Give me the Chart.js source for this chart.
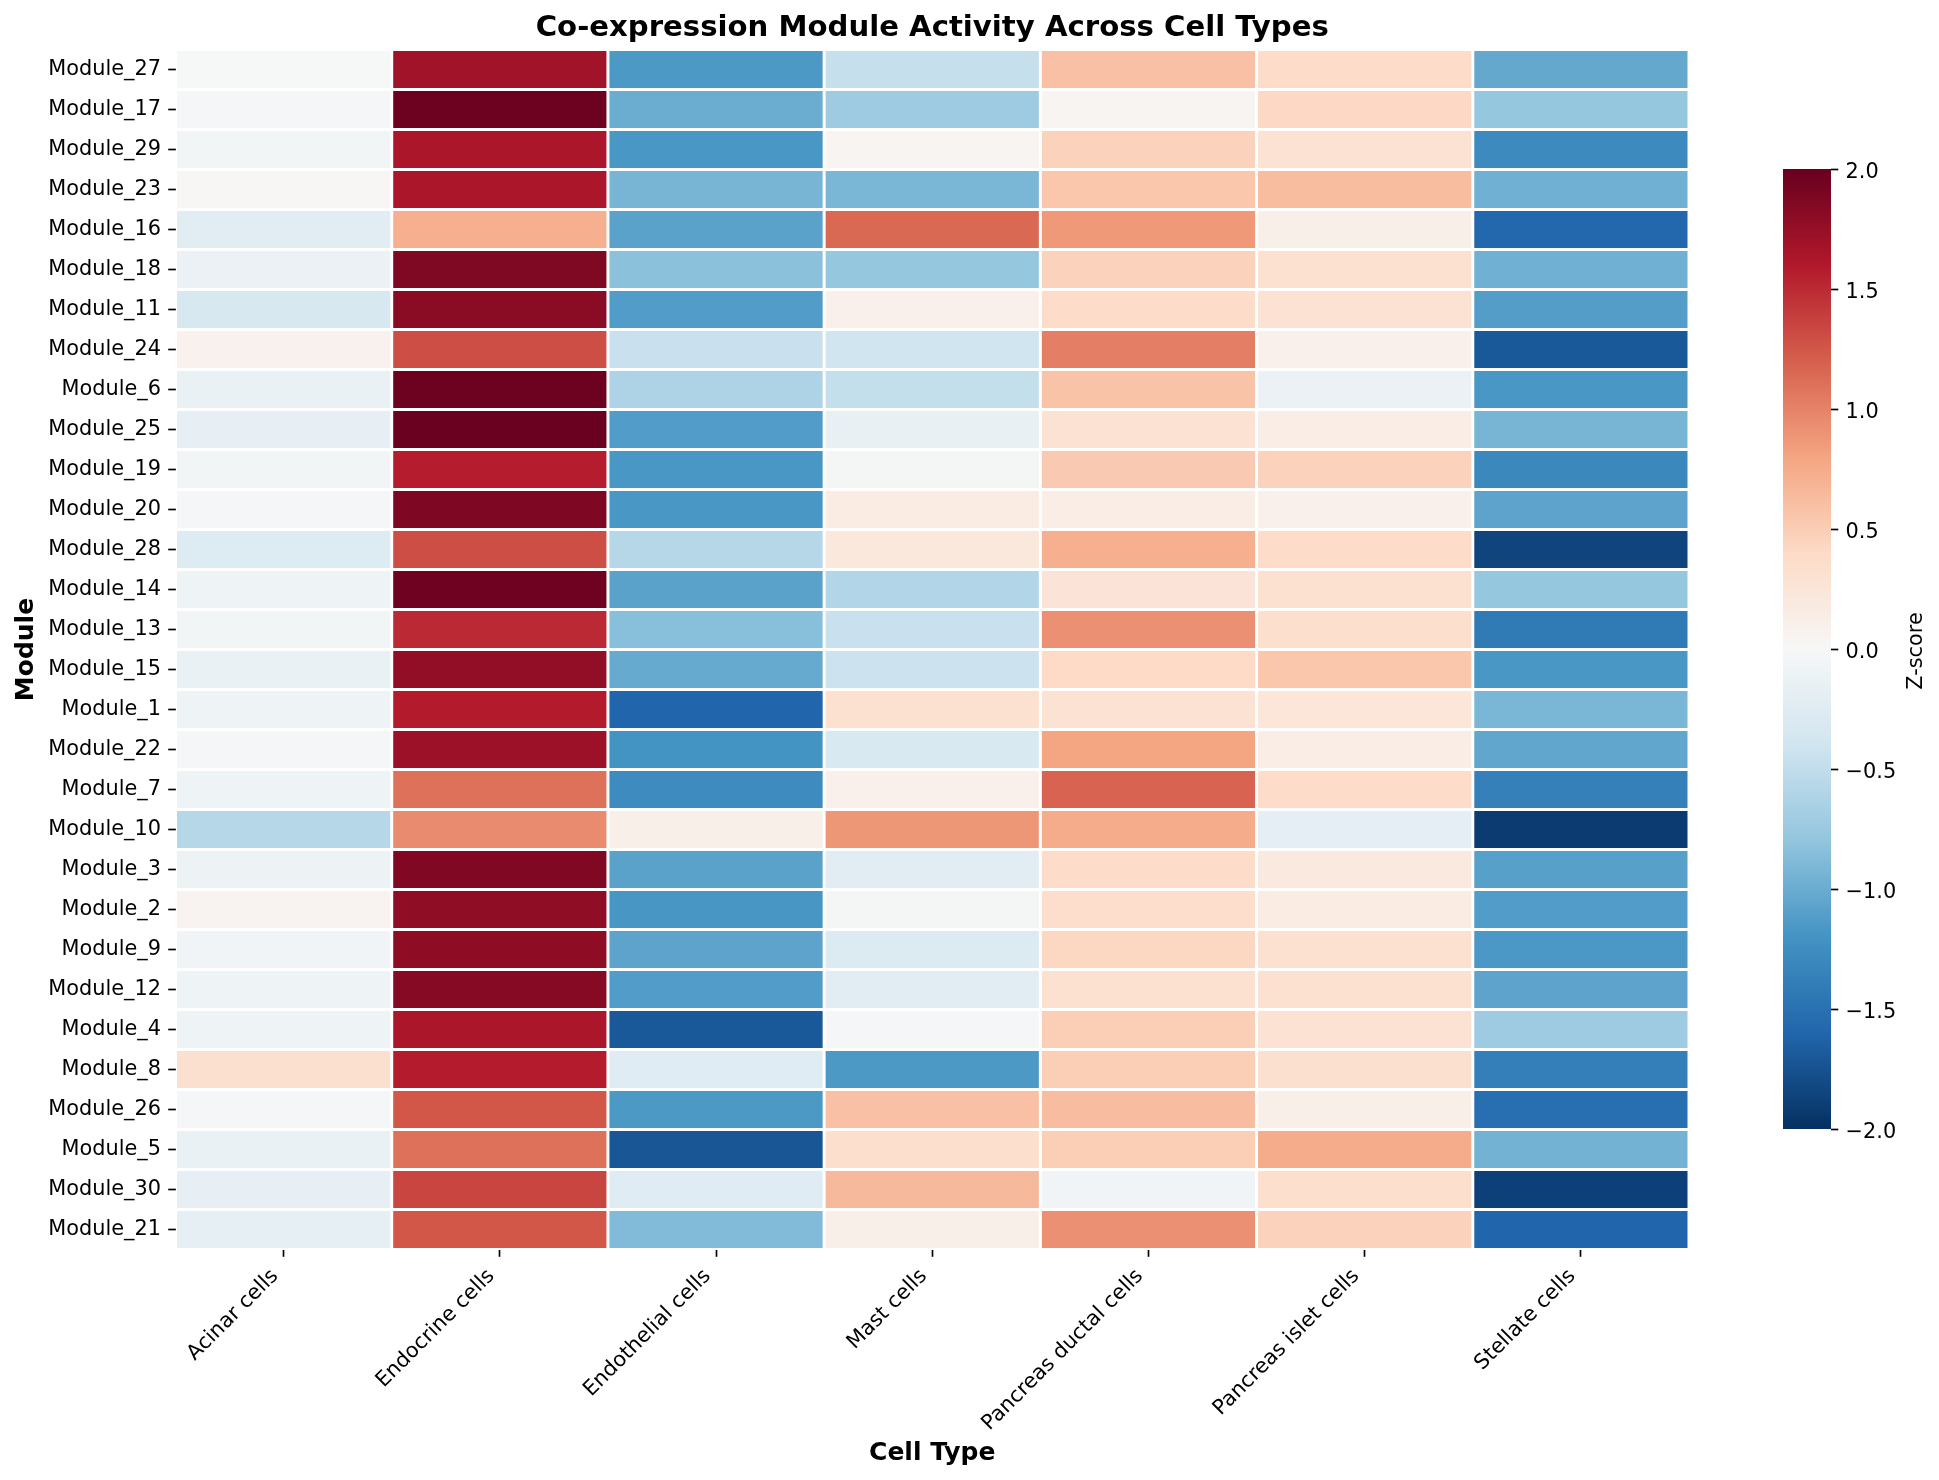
<!DOCTYPE html>
<html>
<head>
<meta charset="utf-8">
<style>
html,body{margin:0;padding:0;background:#fff;overflow:hidden;}
#wrap{position:relative;width:1939px;height:1480px;overflow:hidden;}
canvas{position:absolute;left:0;top:0;display:block;}
</style>
<script src="https://cdn.jsdelivr.net/npm/chart.js@4"></script>
</head>
<body>
<div id="wrap">
<canvas id="main" width="1939" height="1480"></canvas>
<canvas id="bar" width="1939" height="1480"></canvas>
</div>
<script>
const modules = ["Module_27","Module_17","Module_29","Module_23","Module_16","Module_18","Module_11","Module_24","Module_6","Module_25","Module_19","Module_20","Module_28","Module_14","Module_13","Module_15","Module_1","Module_22","Module_7","Module_10","Module_3","Module_2","Module_9","Module_12","Module_4","Module_8","Module_26","Module_5","Module_30","Module_21"];
const cellTypes = ["Acinar cells","Endocrine cells","Endothelial cells","Mast cells","Pancreas ductal cells","Pancreas islet cells","Stellate cells"];
const acinar = [-0.01,-0.02,-0.05,0.02,-0.22,-0.13,-0.33,0.08,-0.14,-0.17,-0.05,-0.02,-0.27,-0.1,-0.05,-0.14,-0.1,-0.02,-0.1,-0.58,-0.11,0.06,-0.06,-0.1,-0.1,0.33,-0.02,-0.14,-0.17,-0.18];
const endocrine = [1.69,1.97,1.64,1.64,0.72,1.87,1.82,1.3,1.97,1.98,1.57,1.88,1.3,1.96,1.5,1.77,1.59,1.72,1.1,0.95,1.86,1.78,1.79,1.83,1.63,1.58,1.25,1.1,1.35,1.25];
const endothelial = [-1.15,-1.0,-1.17,-0.93,-1.08,-0.83,-1.13,-0.45,-0.62,-1.13,-1.17,-1.17,-0.58,-1.08,-0.85,-1.02,-1.6,-1.2,-1.27,0.12,-1.08,-1.18,-1.07,-1.13,-1.7,-0.25,-1.15,-1.72,-0.25,-0.88];
const mast = [-0.47,-0.72,0.05,-0.92,1.15,-0.78,0.1,-0.4,-0.48,-0.15,-0.03,0.17,0.22,-0.6,-0.45,-0.43,0.32,-0.32,0.1,0.88,-0.22,-0.03,-0.28,-0.22,-0.02,-1.15,0.6,0.35,0.65,0.12];
const ductal = [0.6,0.05,0.47,0.55,0.87,0.47,0.38,1.02,0.58,0.3,0.53,0.15,0.72,0.27,0.92,0.4,0.3,0.8,1.18,0.75,0.38,0.37,0.43,0.32,0.5,0.5,0.62,0.5,-0.07,0.92];
const islet = [0.38,0.42,0.3,0.63,0.12,0.32,0.3,0.1,-0.13,0.15,0.47,0.1,0.38,0.32,0.35,0.55,0.25,0.15,0.38,-0.2,0.2,0.17,0.32,0.32,0.3,0.33,0.12,0.75,0.35,0.47];
const stellate = [-1.03,-0.78,-1.28,-0.97,-1.58,-0.97,-1.12,-1.7,-1.17,-0.93,-1.3,-1.07,-1.85,-0.78,-1.42,-1.17,-0.92,-1.05,-1.37,-1.92,-1.1,-1.13,-1.16,-1.07,-0.72,-1.38,-1.52,-0.95,-1.88,-1.6];
const columns = [acinar,endocrine,endothelial,mast,ductal,islet,stellate];
const vmin = -2, vmax = 2;
const colorbarTicks = [-2,-1.5,-1,-0.5,0,0.5,1,1.5,2];
const rdbu = ["#053061","#2166ac","#4393c3","#92c5de","#d1e5f0","#f7f7f7","#fddbc7","#f4a582","#d6604d","#b2182b","#67001f"];

function hex(h){return [1,3,5].map(i=>parseInt(h.substr(i,2),16));}
function colorOf(v){
  const t=Math.max(0,Math.min(1,(v-vmin)/(vmax-vmin)))*(rdbu.length-1);
  const i=Math.min(Math.floor(t),rdbu.length-2),f=t-i;
  const a=hex(rdbu[i]),b=hex(rdbu[i+1]);
  return "rgb("+a.map((c,k)=>Math.round(c+(b[k]-c)*f)).join(",")+")";
}
Chart.defaults.font.family = "'DejaVu Sans'";
Chart.defaults.animation = false;
const TICK = 7.3, TW = 1.67, TXT = 20.83;

new Chart(document.getElementById("main"),{
  type:"bar",
  data:{
    labels:modules,
    datasets:columns.map((vals,c)=>({
      label:cellTypes[c],
      data:vals.map((v,r)=>({x:[c,c+1],y:modules[r],z:v})),
      backgroundColor:ctx=>colorOf(ctx.raw.z),
      borderColor:"#ffffff",
      borderWidth:1.5,
      borderSkipped:false,
      inflateAmount:0,
      barPercentage:1,
      categoryPercentage:1,
      grouped:false
    }))
  },
  options:{
    indexAxis:"y",
    responsive:false,
    devicePixelRatio:1,
    layout:{padding:{left:0,top:0,right:250,bottom:0}},
    plugins:{
      legend:{display:false},
      tooltip:{enabled:false},
      title:{display:true,fullSize:false,text:"Co-expression Module Activity Across Cell Types",color:"#000",
        font:{size:29.17,weight:"bold",lineHeight:1.2},padding:{top:10.5,bottom:4}}
    },
    scales:{
      y:{
        type:"category",
        afterFit:s=>{s.width=175.5;},
        border:{display:false},
        grid:{offset:false,drawOnChartArea:false,tickLength:TICK,tickWidth:TW,tickColor:"#000"},
        ticks:{color:"#000",font:{size:TXT},padding:TICK,autoSkip:false},
        title:{display:true,text:"Module",color:"#000",font:{size:25,weight:"bold",lineHeight:1.2},padding:{top:11.4,bottom:0}}
      },
      x:{
        type:"linear",min:0,max:7,
        afterFit:s=>{s.height=230.5;},
        afterBuildTicks:s=>{s.ticks=cellTypes.map((_,i)=>({value:i+0.5}));},
        border:{display:false},
        grid:{drawOnChartArea:false,tickLength:TICK,tickWidth:TW,tickColor:"#000"},
        ticks:{color:"#000",font:{size:TXT},padding:TICK,labelOffset:-8.5,autoSkip:false,minRotation:45,maxRotation:45,
          callback:(v,i)=>cellTypes[i]},
        title:{display:true,text:"Cell Type",color:"#000",font:{size:25,weight:"bold",lineHeight:1.2},padding:{top:0,bottom:11.3}}
      }
    }
  }
});

new Chart(document.getElementById("bar"),{
  type:"bar",
  data:{
    labels:["Z-score"],
    datasets:[{
      data:[[vmin,vmax]],
      backgroundColor:ctx=>{
        const a=ctx.chart.chartArea;
        if(!a) return rdbu[5];
        const g=ctx.chart.ctx.createLinearGradient(0,a.bottom,0,a.top);
        rdbu.forEach((c,i)=>g.addColorStop(i/(rdbu.length-1),c));
        return g;
      },
      borderWidth:0,inflateAmount:0,barPercentage:1,categoryPercentage:1
    }]
  },
  options:{
    responsive:false,
    devicePixelRatio:1,
    layout:{padding:{left:1783,top:169,right:0,bottom:351}},
    plugins:{legend:{display:false},tooltip:{enabled:false},title:{display:false}},
    scales:{
      x:{display:false},
      y:{
        position:"right",min:vmin,max:vmax,
        afterFit:s=>{s.width=108;},
        afterBuildTicks:s=>{s.ticks=colorbarTicks.map(v=>({value:v}));},
        border:{display:false},
        grid:{drawOnChartArea:false,tickLength:TICK,tickWidth:TW,tickColor:"#000"},
        ticks:{color:"#000",font:{size:TXT},padding:TICK,labelOffset:3.7,autoSkip:false,
          callback:v=>(v<0?"\u2212":"")+Math.abs(v).toFixed(1)}
      }
    }
  },
  plugins:[{
    id:"cbarLabel",
    afterDraw(chart){
      const c=chart.ctx,s=chart.scales.y;
      c.save();
      c.translate(1922,(s.top+s.bottom)/2+2);
      c.rotate(-Math.PI/2);
      c.font="20.83px 'DejaVu Sans'";
      c.fillStyle="#000";
      c.textAlign="center";
      c.textBaseline="alphabetic";
      c.fillText("Z-score",0,0);
      c.restore();
    }
  }]
});
</script>
</body>
</html>
